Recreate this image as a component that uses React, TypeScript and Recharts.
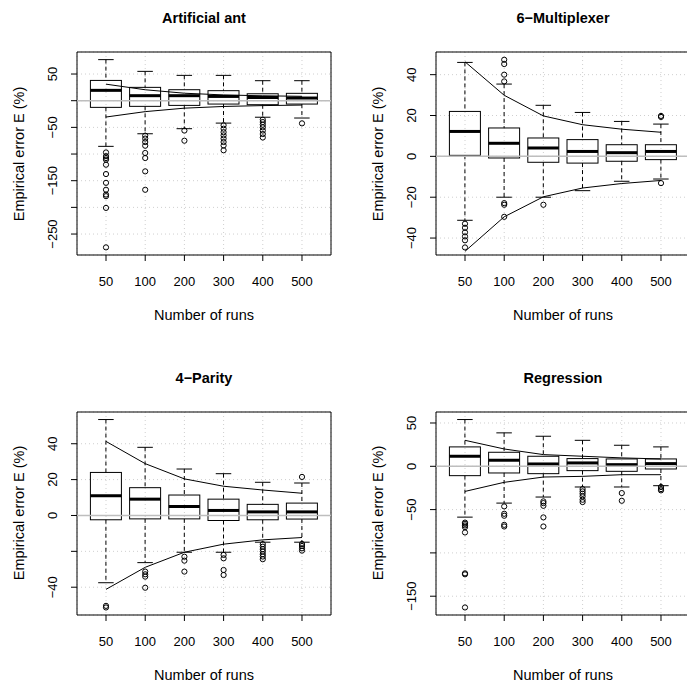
import {
  Bar,
  CartesianGrid,
  ComposedChart,
  Line,
  ReferenceArea,
  ReferenceLine,
  Scatter,
  XAxis,
  YAxis,
} from "recharts"

const RUNS = ["50", "100", "200", "300", "400", "500"]

// Artificial ant
const ANT_HIGH = [77, 55, 47.5, 47.5, 37.5, 37.5]
const ANT_Q3 = [38, 25, 20.6, 18.8, 13, 13.8]
const ANT_MED = [19.4, 9.4, 9.4, 8, 6, 5]
const ANT_Q1 = [-12.5, -10.6, -8.8, -6.3, -7.5, -6.3]
const ANT_LOW = [-85.6, -62, -52.5, -42, -31, -32.5]
const ANT_UP = [31, 20.5, 14, 10.8, 9.2, 8.2]
const ANT_DN = [-30.6, -20.5, -14, -10.8, -9.2, -8.2]
const ANT_OUT = [
  [-97, -104, -107.5, -110.6, -120, -137.5, -154, -167, -176, -179, -201, -275],
  [-65.6, -71, -77.5, -84.4, -98, -107.5, -132.5, -167],
  [-56, -75],
  [-46, -52.5, -59, -65, -71, -77.5, -84, -93],
  [-35.6, -40, -45, -50, -56, -62.5, -69],
  [-42.5],
]
const ANT_Y = [-289.3, 91.3]
const ANT_TICKS = [-250, -200, -150, -100, -50, 0, 50]
const ANT_LABELS = [-250, -150, -50, 50]

// 6-Multiplexer
const MUX_HIGH = [46, 35.4, 25, 21.5, 17.1, 15.8]
const MUX_Q3 = [22, 13.9, 9, 8.2, 5.7, 5.7]
const MUX_MED = [12.2, 6.4, 4.1, 2.4, 1.8, 2.4]
const MUX_Q1 = [0.5, -0.8, -2.9, -3.3, -2.4, -1.6]
const MUX_LOW = [-31.3, -20, -20, -16.8, -12.2, -11.1]
const MUX_UP = [46.3, 29.9, 19.8, 15.5, 13.3, 11.8]
const MUX_DN = [-46.5, -29.6, -19.8, -15.5, -13.3, -11.8]
const MUX_OUT = [
  [-33, -35, -37.2, -39.2, -41.1, -44.6],
  [47.3, 45.2, 40, 36.7, -22.9, -23.7, -29.6],
  [-23.7],
  [],
  [],
  [19.3, 19.8, -13.1],
]
const MUX_Y = [-48.3, 51.1]
const MUX_TICKS = [-40, -20, 0, 20, 40]
const MUX_LABELS = [-40, -20, 0, 20, 40]

// 4-Parity
const PAR_HIGH = [53.5, 38, 25.9, 23.3, 18.5, 18.1]
const PAR_Q3 = [24, 15.5, 11.4, 9.1, 6.2, 6.9]
const PAR_MED = [11, 9.1, 5, 2.8, 2, 2]
const PAR_Q1 = [-2.4, -1.9, -1.9, -2.8, -2.4, -2]
const PAR_LOW = [-37.5, -26.3, -20.5, -20.5, -14.9, -14.9]
const PAR_UP = [41.3, 28.9, 20.4, 16.3, 14.2, 12.4]
const PAR_DN = [-41.2, -28.9, -20.5, -16, -13.6, -12.3]
const PAR_OUT = [
  [-50.4, -51.3],
  [-31.3, -32.8, -34.1, -40.3],
  [-23, -25.2, -31.3],
  [-22, -23.9, -30.4, -33.2],
  [-16, -17.4, -18.8, -20.1, -21.6, -22.9, -24.4],
  [21.5, -15.9, -17, -18.3, -19.6],
]
const PAR_Y = [-55.5, 57.7]
const PAR_TICKS = [-40, -20, 0, 20, 40]
const PAR_LABELS = [-40, 0, 20, 40]

// Regression
const REG_HIGH = [54, 38.6, 34.7, 30, 24.3, 22.4]
const REG_Q3 = [22.4, 16.2, 11.6, 8.9, 8.5, 8.5]
const REG_MED = [11.6, 7, 2.7, 3.9, 1.9, 3.1]
const REG_Q1 = [-10.8, -7.7, -8.5, -5, -5.8, -3.1]
const REG_LOW = [-58.7, -42.5, -35.5, -23.9, -23.9, -22.4]
const REG_UP = [30, 20, 13.5, 11.6, 9.7, 8.5]
const REG_DN = [-29, -18.5, -12.4, -11.6, -9.7, -9.7]
const REG_OUT = [
  [-65, -66.4, -68.3, -70.3, -76.4, -123.6, -124.7, -163],
  [-46.3, -54.8, -57.1, -67.6, -69.5],
  [-40.5, -42.5, -45.6, -59, -69.5],
  [-26.3, -29, -31.7, -34.7, -38.6, -41.3],
  [-30.9, -39.8],
  [-23.9, -26.3, -27.8],
]
const REG_Y = [-171.7, 62.7]
const REG_TICKS = [-150, -100, -50, 0, 50]
const REG_LABELS = [-150, -50, 0, 50]

const FONT = '"Liberation Sans", Arial, Helvetica, sans-serif'
const W = 343
const H = 340
const PLOT_LEFT = 77
const PLOT_TOP = 52
const PLOT_W = 254
const PLOT_H = 203
const Y_AXIS_W = 45
const X_AXIS_H = 30
const X_DOMAIN = [0.26, 6.74]

const fmt = (v: number) => (v < 0 ? `\u2212${Math.abs(v)}` : `${v}`)

type Stats = { high: number[]; q3: number[]; med: number[]; q1: number[]; low: number[]; up: number[]; dn: number[]; out: number[][] }

const PANELS = [
  { title: "Artificial ant", left: 0, top: 0, yDomain: ANT_Y, yTicks: ANT_TICKS, yLabels: ANT_LABELS,
    s: { high: ANT_HIGH, q3: ANT_Q3, med: ANT_MED, q1: ANT_Q1, low: ANT_LOW, up: ANT_UP, dn: ANT_DN, out: ANT_OUT } },
  { title: "6\u2212Multiplexer", left: 359, top: 0, yDomain: MUX_Y, yTicks: MUX_TICKS, yLabels: MUX_LABELS,
    s: { high: MUX_HIGH, q3: MUX_Q3, med: MUX_MED, q1: MUX_Q1, low: MUX_LOW, up: MUX_UP, dn: MUX_DN, out: MUX_OUT } },
  { title: "4\u2212Parity", left: 0, top: 359.5, yDomain: PAR_Y, yTicks: PAR_TICKS, yLabels: PAR_LABELS,
    s: { high: PAR_HIGH, q3: PAR_Q3, med: PAR_MED, q1: PAR_Q1, low: PAR_LOW, up: PAR_UP, dn: PAR_DN, out: PAR_OUT } },
  { title: "Regression", left: 359, top: 359.5, yDomain: REG_Y, yTicks: REG_TICKS, yLabels: REG_LABELS,
    s: { high: REG_HIGH, q3: REG_Q3, med: REG_MED, q1: REG_Q1, low: REG_LOW, up: REG_UP, dn: REG_DN, out: REG_OUT } },
]

// One bar per run spanning the whiskers; the shape draws the whole box-and-whisker
// using the bar's own pixel extent to place the quartiles and median.
function BoxShape(props: any) {
  const { x, y, width, height, payload } = props
  const { lo, q1, med, q3, hi } = payload
  const py = (v: number) => y + (height * (hi - v)) / (hi - lo)
  const cx = x + width / 2
  const cap = width / 4
  return (
    <g stroke="#000" fill="none">
      <line x1={cx} x2={cx} y1={py(hi)} y2={py(q3)} strokeDasharray="4 3" />
      <line x1={cx} x2={cx} y1={py(q1)} y2={py(lo)} strokeDasharray="4 3" />
      <line x1={cx - cap} x2={cx + cap} y1={py(hi)} y2={py(hi)} />
      <line x1={cx - cap} x2={cx + cap} y1={py(lo)} y2={py(lo)} />
      <rect x={x} y={py(q3)} width={width} height={py(q1) - py(q3)} />
      <line x1={x} x2={x + width} y1={py(med)} y2={py(med)} strokeWidth={3} />
    </g>
  )
}

function Outlier(props: any) {
  return <circle cx={props.cx} cy={props.cy} r={2.6} fill="none" stroke="#000" />
}

function XTick({ x, y, payload }: any) {
  return (
    <text x={x} y={y + 23} textAnchor="middle" fontSize={13} fontFamily={FONT} fill="#000">
      {RUNS[payload.value - 1]}
    </text>
  )
}

function makeYTick(labels: number[]) {
  return ({ x, y, payload }: any) =>
    labels.includes(payload.value) ? (
      <text transform={`translate(${x - 12.5},${y}) rotate(-90)`} textAnchor="middle" fontSize={13} fontFamily={FONT} fill="#000">
        {fmt(payload.value)}
      </text>
    ) : (
      <g />
    )
}

function Panel({ title, left, top, yDomain, yTicks, yLabels, s }: { title: string; left: number; top: number; yDomain: number[]; yTicks: number[]; yLabels: number[]; s: Stats }) {
  const rows = RUNS.map((_, i) => ({
    pos: i + 1,
    span: [s.low[i], s.high[i]],
    lo: s.low[i],
    q1: s.q1[i],
    med: s.med[i],
    q3: s.q3[i],
    hi: s.high[i],
    up: s.up[i],
    dn: s.dn[i],
  }))
  const outliers = s.out.flatMap((vals, i) => vals.map((v) => ({ pos: i + 1, v })))
  const text = { position: "absolute" as const, color: "#000", fontFamily: FONT, textAlign: "center" as const, whiteSpace: "nowrap" as const }
  return (
    <div style={{ position: "absolute", left, top, width: W, height: H }}>
      <ComposedChart
        width={W}
        height={H}
        data={rows}
        margin={{ top: PLOT_TOP, left: PLOT_LEFT - Y_AXIS_W, right: W - PLOT_LEFT - PLOT_W, bottom: H - PLOT_TOP - PLOT_H - X_AXIS_H }}
      >
        <CartesianGrid stroke="#cfcfcf" strokeDasharray="1 3" />
        <XAxis
          dataKey="pos"
          type="number"
          domain={X_DOMAIN}
          ticks={[1, 2, 3, 4, 5, 6]}
          interval={0}
          height={X_AXIS_H}
          axisLine={false}
          tickLine={{ stroke: "#000" }}
          tickSize={6}
          tick={XTick}
        />
        <YAxis
          type="number"
          domain={yDomain}
          ticks={yTicks}
          interval={0}
          width={Y_AXIS_W}
          axisLine={false}
          tickLine={{ stroke: "#000" }}
          tickSize={6}
          tick={makeYTick(yLabels)}
        />
        <Bar dataKey="span" barSize={31} shape={BoxShape} isAnimationActive={false} />
        <Scatter data={outliers} dataKey="v" shape={Outlier} isAnimationActive={false} />
        <Line dataKey="up" stroke="#000" strokeWidth={1} dot={false} isAnimationActive={false} />
        <Line dataKey="dn" stroke="#000" strokeWidth={1} dot={false} isAnimationActive={false} />
        <ReferenceLine y={0} stroke="#bebebe" strokeWidth={1.5} />
        <ReferenceArea x1={X_DOMAIN[0]} x2={X_DOMAIN[1]} y1={yDomain[0]} y2={yDomain[1]} fill="none" stroke="#000" strokeOpacity={1} ifOverflow="visible" />
      </ComposedChart>
      <div style={{ ...text, left: PLOT_LEFT, width: PLOT_W, top: 9, height: 18, lineHeight: "18px", fontSize: 14.5, fontWeight: "bold" }}>{title}</div>
      <div style={{ ...text, left: PLOT_LEFT, width: PLOT_W, top: 306, height: 18, lineHeight: "18px", fontSize: 14.5 }}>Number of runs</div>
      <div
        style={{
          ...text,
          left: 19 - 100,
          width: 200,
          top: PLOT_TOP + PLOT_H / 2 - 9,
          height: 18,
          lineHeight: "18px",
          fontSize: 14.5,
          transform: "rotate(-90deg)",
        }}
      >
        Empirical error E (%)
      </div>
    </div>
  )
}

export default function App() {
  return (
    <div style={{ position: "absolute", left: 0, top: 0, width: 687, height: 681, overflow: "hidden", background: "#fff" }}>
      {PANELS.map((p) => (
        <Panel key={p.title} {...p} />
      ))}
    </div>
  )
}
